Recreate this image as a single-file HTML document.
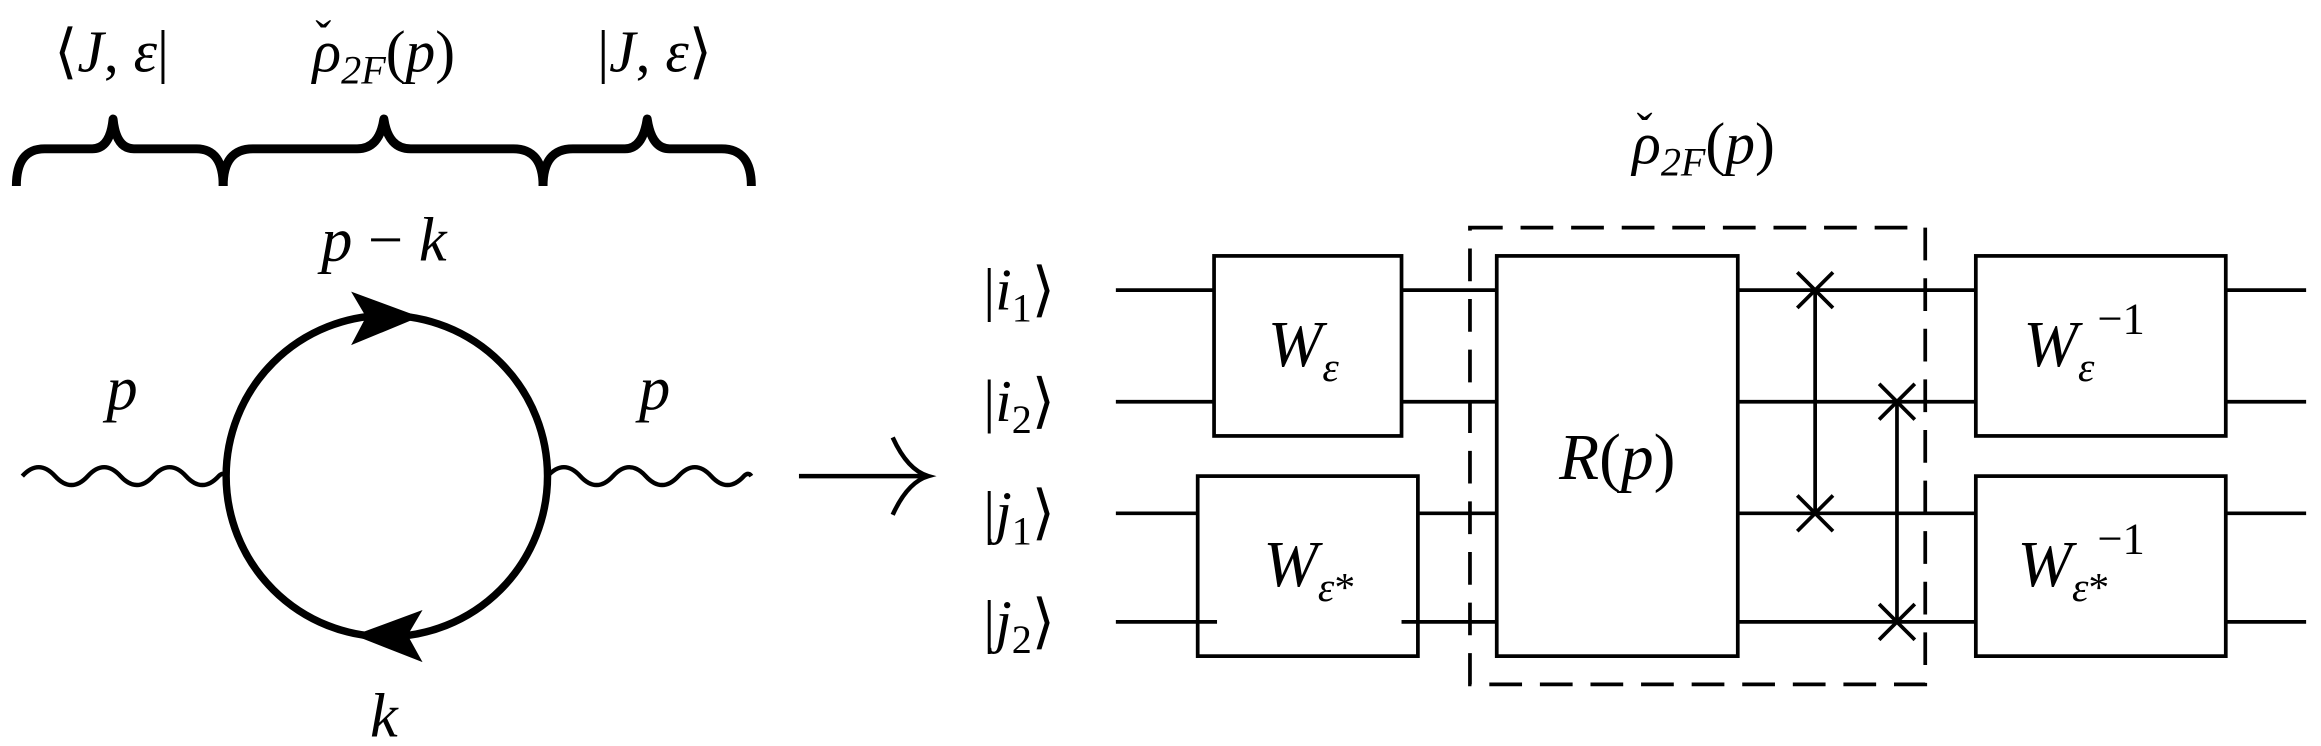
<!DOCTYPE html>
<html><head><meta charset="utf-8"><style>
html,body{margin:0;padding:0;background:#fff;}
svg{display:block}
text{font-family:"Liberation Serif",serif;font-style:italic;fill:#000}
.up{font-style:normal}
</style></head><body>
<svg width="2321" height="746" viewBox="0 0 1560 501.4" preserveAspectRatio="none" xmlns="http://www.w3.org/2000/svg">
<g font-size="40">
<text x="75" y="48" text-anchor="middle"><tspan class="up">⟨</tspan>J<tspan class="up">,</tspan> ε<tspan class="up">|</tspan></text>
<text x="258" y="48" text-anchor="middle">ρ<tspan font-size="27" dy="8">2F</tspan><tspan dy="-8" class="up">(</tspan>p<tspan class="up">)</tspan></text>
<text x="212" y="36" class="up" font-size="32">ˇ</text>
<text x="440" y="48" text-anchor="middle"><tspan class="up">|</tspan>J<tspan class="up">,</tspan> ε<tspan class="up">⟩</tspan></text>
</g>
<g fill="none" stroke="#000" stroke-width="6" stroke-linejoin="round">
<path d="M11 125 Q11 100 30 100 L62 100 Q74 100 76 80 Q78 100 90 100 L132 100 Q150 100 150 125"/>
<path d="M150 125 Q150 100 170 100 L240 100 Q255 100 258 80 Q261 100 276 100 L345 100 Q365 100 365 125"/>
<path d="M365 125 Q365 100 385 100 L420 100 Q432 100 435 80 Q438 100 450 100 L485 100 Q505 100 505 125"/>
</g>
<g>
<circle cx="260" cy="320" r="108" fill="none" stroke="#000" stroke-width="5"/>
<path d="M282 213 L236 196 L246 213 L236 232 Z" fill="#000"/>
<path d="M238 427 L284 410 L274 427 L284 445 Z" fill="#000"/>
<path fill="none" stroke="#000" stroke-width="3" d="M15 320 q11 -12 22 0 q11 12 22 0 q11 -12 22 0 q11 12 22 0 q11 -12 22 0 q11 12 22 0 q3 -3 5 0"/>
<path fill="none" stroke="#000" stroke-width="3" d="M368 320 q11 -12 22 0 q11 12 22 0 q11 -12 22 0 q11 12 22 0 q11 -12 22 0 q11 12 22 0 q3 -3 5 0"/>
<g font-size="42">
<text x="258" y="175" text-anchor="middle">p <tspan class="up">−</tspan> k</text>
<text x="82" y="275" text-anchor="middle">p</text>
<text x="440" y="275" text-anchor="middle">p</text>
<text x="258" y="495" text-anchor="middle">k</text>
</g>
</g>
<g fill="none" stroke="#000" stroke-width="3">
<line x1="537" y1="320" x2="622" y2="320"/>
<path d="M600 294 Q610 316 624 320 Q610 324 600 346"/>
</g>
<g>
<g font-size="40">
<text x="685" y="208" text-anchor="middle"><tspan class="up">|</tspan>i<tspan font-size="27" dy="8" class="up">1</tspan><tspan dy="-8" class="up">⟩</tspan></text>
<text x="685" y="283" text-anchor="middle"><tspan class="up">|</tspan>i<tspan font-size="27" dy="8" class="up">2</tspan><tspan dy="-8" class="up">⟩</tspan></text>
<text x="685" y="358" text-anchor="middle"><tspan class="up">|</tspan>j<tspan font-size="27" dy="8" class="up">1</tspan><tspan dy="-8" class="up">⟩</tspan></text>
<text x="685" y="431" text-anchor="middle"><tspan class="up">|</tspan>j<tspan font-size="27" dy="8" class="up">2</tspan><tspan dy="-8" class="up">⟩</tspan></text>
<text x="1145" y="110" text-anchor="middle">ρ<tspan font-size="27" dy="8">2F</tspan><tspan dy="-8" class="up">(</tspan>p<tspan class="up">)</tspan></text>
<text x="1100" y="98" class="up" font-size="32">ˇ</text>
</g>
<g stroke="#000" stroke-width="2.5" fill="none">
<line x1="750" y1="195" x2="1550" y2="195"/>
<line x1="750" y1="270" x2="1550" y2="270"/>
<line x1="750" y1="345" x2="1550" y2="345"/>
<line x1="750" y1="418" x2="1550" y2="418"/>
</g>
<rect x="988" y="153" width="306" height="307" fill="none" stroke="#000" stroke-width="2.5" stroke-dasharray="22 12"/>
<g stroke="#000" stroke-width="2.5" fill="#fff">
<rect x="816" y="172" width="126" height="121"/>
<rect x="805" y="320" width="148" height="121"/>
<rect x="1006" y="172" width="162" height="269"/>
<rect x="1328" y="172" width="168" height="121"/>
<rect x="1328" y="320" width="168" height="121"/>
</g>
<g stroke="#000" stroke-width="2.5">
<line x1="805" y1="418" x2="818" y2="418"/><line x1="942" y1="418" x2="953" y2="418"/>
<line x1="1220" y1="195" x2="1220" y2="345"/>
<line x1="1208" y1="183" x2="1232" y2="207"/><line x1="1232" y1="183" x2="1208" y2="207"/>
<line x1="1208" y1="333" x2="1232" y2="357"/><line x1="1232" y1="333" x2="1208" y2="357"/>
<line x1="1275" y1="270" x2="1275" y2="418"/>
<line x1="1263" y1="258" x2="1287" y2="282"/><line x1="1287" y1="258" x2="1263" y2="282"/>
<line x1="1263" y1="406" x2="1287" y2="430"/><line x1="1287" y1="406" x2="1263" y2="430"/>
</g>
<g font-size="44">
<text x="876" y="246" text-anchor="middle">W<tspan font-size="28" dy="10">ε</tspan></text>
<text x="880" y="394" text-anchor="middle">W<tspan font-size="28" dy="10">ε<tspan class="up">*</tspan></tspan></text>
<text x="1087" y="322" text-anchor="middle">R<tspan class="up">(</tspan>p<tspan class="up">)</tspan></text>
<text x="1360" y="246">W<tspan font-size="28" dy="10">ε</tspan><tspan font-size="30" dx="2" dy="-32" class="up">−1</tspan></text>
<text x="1356" y="394">W<tspan font-size="28" dy="10">ε<tspan class="up">*</tspan></tspan><tspan font-size="30" dx="-8" dy="-32" class="up">−1</tspan></text>
</g>
</g>
</svg>
</body></html>
